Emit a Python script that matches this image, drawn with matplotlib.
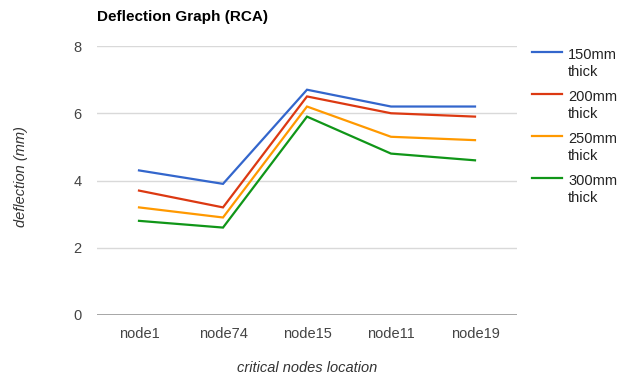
import matplotlib
matplotlib.use("Agg")
import matplotlib.pyplot as plt
from matplotlib.lines import Line2D

plt.rcParams['font.family'] = ['Liberation Sans', 'DejaVu Sans']

categories = ["node1", "node74", "node15", "node11", "node19"]
series_names = ["150mm\nthick", "200mm\nthick", "250mm\nthick", "300mm\nthick"]
s150 = [4.3, 3.9, 6.7, 6.2, 6.2]
s200 = [3.7, 3.2, 6.5, 6.0, 5.9]
s250 = [3.2, 2.9, 6.2, 5.3, 5.2]
s300 = [2.8, 2.6, 5.9, 4.8, 4.6]
yticks = [0, 2, 4, 6, 8]
colors = ["#3366cc", "#dc3912", "#ff9900", "#109618"]

W, H = 632, 379
fig = plt.figure(figsize=(W / 100, H / 100), dpi=100)
ax = fig.add_axes([97 / W, (H - 315) / H, 420 / W, (315 - 46) / H])

x = list(range(len(categories)))
for vals, c, name in zip([s150, s200, s250, s300], colors, series_names):
    ax.plot(x, vals, color=c, lw=1.6, label=name, solid_joinstyle='miter')

ax.set_xlim(-0.5, len(categories) - 0.5)
ax.set_ylim(0, 8)
ax.set_yticks(yticks)
ax.set_yticklabels([str(v) for v in yticks])
ax.set_xticks(x)
ax.set_xticklabels(categories)
for s in ax.spines.values():
    s.set_visible(False)
ax.grid(axis='y', color='#d9d9d9', lw=1)
ax.axhline(0, color='#999999', lw=1.2, zorder=3)
ax.set_axisbelow(True)
ax.tick_params(length=0, labelsize=10.5, colors='#444444')
ax.tick_params(axis='y', pad=11)
ax.tick_params(axis='x', pad=9)

fig.text(307 / W, (H - 368) / H, "critical nodes location", style='italic', fontsize=10.5,
         color='#333333', ha='center', va='center')
fig.text(21 / W, (H - 177) / H, "deflection (mm)", style='italic', fontsize=10.5,
         color='#333333', rotation=90, ha='center', va='center')

fig.text(97 / W, (H - 17) / H, "Deflection Graph (RCA)", fontsize=11, fontweight='bold',
         color='#000000', ha='left', va='center')

# legend
leg_y = [52, 94, 136, 178]
for yy, c, name in zip(leg_y, colors, series_names):
    fig.add_artist(Line2D([532 / W, 562 / W], [(H - yy) / H] * 2, color=c, lw=1.6,
                          transform=fig.transFigure))
    fig.text(568 / W, (H - yy + 4) / H, name, fontsize=10.5, color='#222222',
             ha='left', va='top', linespacing=1.25)

fig.savefig("out.png", dpi=100)
